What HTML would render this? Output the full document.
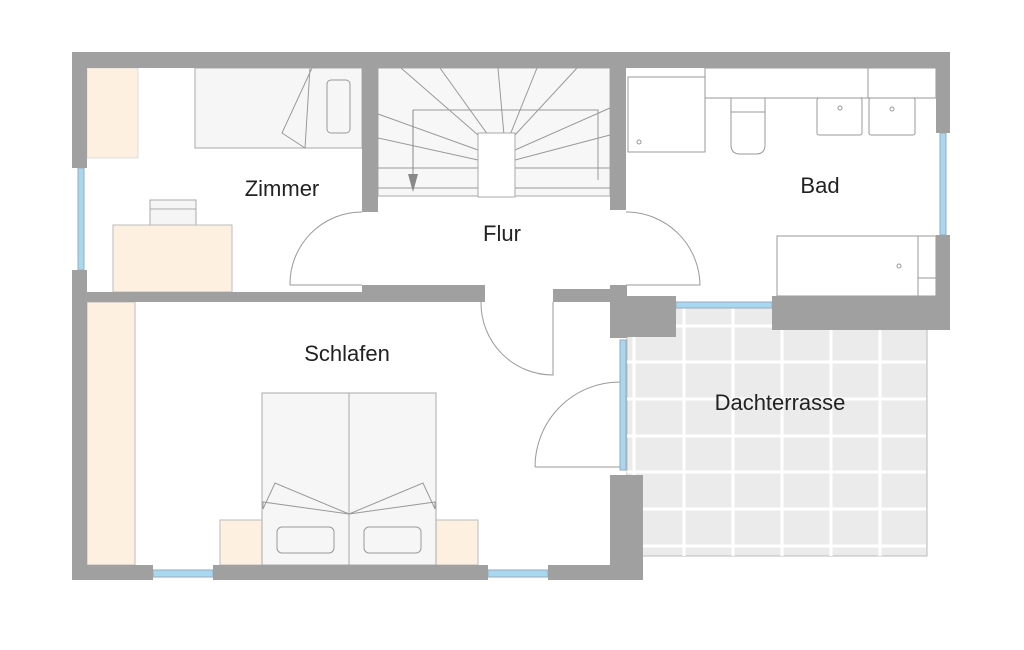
<!DOCTYPE html>
<html><head><meta charset="utf-8"><style>html,body{margin:0;padding:0;background:#fff}svg{display:block}text{font-family:"Liberation Sans",sans-serif;font-size:22px;fill:#222;text-anchor:middle}</style></head><body>
<svg width="1024" height="650" viewBox="0 0 1024 650" xmlns="http://www.w3.org/2000/svg">
<!-- terrace -->
<rect x="627" y="307" width="300" height="249" fill="#ebebeb" stroke="#bbb" stroke-width="1"/>
<g stroke="#fff" stroke-width="3">
<line x1="634" y1="307" x2="634" y2="556"/><line x1="684" y1="307" x2="684" y2="556"/><line x1="733" y1="307" x2="733" y2="556"/><line x1="782" y1="307" x2="782" y2="556"/><line x1="831" y1="307" x2="831" y2="556"/><line x1="880" y1="307" x2="880" y2="556"/>
<line x1="627" y1="326" x2="926" y2="326"/><line x1="627" y1="362" x2="926" y2="362"/><line x1="627" y1="399" x2="926" y2="399"/><line x1="627" y1="436" x2="926" y2="436"/><line x1="627" y1="472" x2="926" y2="472"/><line x1="627" y1="509" x2="926" y2="509"/><line x1="627" y1="546" x2="926" y2="546"/>
</g>
<!-- stairs -->
<rect x="378" y="68" width="232" height="128" fill="#f7f7f7" stroke="#aaa"/>
<g stroke="#999" stroke-width="1" fill="none">
<path d="M378 114 L478 150 M378 138 L478 160 M378 168 L478 168 M378 188 L478 188 M401 68 L478 135 M440 68 L488 135 M498 68 L504 135 M537 68 L510 135 M577 68 L515 135 M610 108 L515 150 M610 135 L515 160 M610 168 L515 168 M610 188 L515 188 M413 110 L598 110 L598 180"/>
</g>
<rect x="478" y="133" width="37" height="64" fill="#fff" stroke="#aaa"/>
<line x1="413" y1="110" x2="413" y2="175" stroke="#888"/><polygon points="408,174 418,174 413,192" fill="#888"/>
<!-- Zimmer furniture -->
<rect x="87" y="68" width="51" height="90" fill="#fdf0e0" stroke="#ddd"/>
<rect x="195" y="68" width="167" height="80" fill="#f7f6f7" stroke="#aaa"/>
<path d="M312 68 L282 133 L305 148 L310 68" fill="#f7f6f7" stroke="#999"/>
<rect x="327" y="80" width="23" height="53" rx="4" fill="#f7f6f7" stroke="#999"/>
<rect x="150" y="200" width="46" height="25" fill="#f5f5f5" stroke="#aaa"/><line x1="150" y1="209" x2="196" y2="209" stroke="#aaa"/>
<rect x="113" y="225" width="119" height="67" fill="#fdf0e0" stroke="#bbb"/>
<!-- Schlafen furniture -->
<rect x="87" y="302" width="48" height="263" fill="#fdf0e0" stroke="#bbb"/>
<rect x="220" y="520" width="42" height="45" fill="#fdf0e0" stroke="#bbb"/>
<rect x="436" y="520" width="42" height="45" fill="#fdf0e0" stroke="#bbb"/>
<rect x="262" y="393" width="174" height="172" fill="#f7f6f7" stroke="#aaa"/>
<line x1="349" y1="393" x2="349" y2="565" stroke="#aaa"/>
<path d="M262 538 L262 538 M263 509 L275 483 L349 514 L263 502 Z M435 509 L423 483 L349 514 L435 502 Z" fill="#f7f6f7" stroke="#999"/>
<rect x="277" y="527" width="57" height="26" rx="5" fill="none" stroke="#999"/>
<rect x="364" y="527" width="57" height="26" rx="5" fill="none" stroke="#999"/>
<!-- Bad furniture -->
<g fill="#fff" stroke="#999">
<rect x="628" y="77" width="77" height="75"/><circle cx="639" cy="142" r="2"/>
<rect x="705" y="68" width="231" height="30"/><line x1="868" y1="68" x2="868" y2="98"/>
<path d="M731 98 L765 98 L765 145 Q765 154 756 154 L740 154 Q731 154 731 145 Z"/><line x1="731" y1="112" x2="765" y2="112"/>
<rect x="817" y="98" width="45" height="37" rx="2"/><circle cx="840" cy="108" r="2"/>
<rect x="869" y="98" width="46" height="37" rx="2"/><circle cx="892" cy="109" r="2"/>
<rect x="777" y="236" width="141" height="60"/><circle cx="899" cy="266" r="2"/>
<rect x="918" y="236" width="18" height="60"/><line x1="918" y1="278" x2="936" y2="278"/>
</g>
<!-- doors -->
<g fill="none" stroke="#999" stroke-width="1">
<path d="M290 285 A72 72 0 0 1 362 212 M290 285 L362 285"/>
<path d="M626 212 A74 74 0 0 1 700 285 L626 285"/>
<path d="M481 302 A72 72 0 0 0 553 375 L553 302"/>
<path d="M535 467 A85 85 0 0 1 620 382 M535 467 L620 467"/>
</g>
<!-- windows -->
<g fill="#a8d8f0" stroke="#9ab">
<rect x="78" y="168" width="6" height="102"/>
<rect x="153" y="570" width="60" height="7"/>
<rect x="488" y="570" width="60" height="7"/>
<rect x="676" y="302" width="96" height="6"/>
<rect x="940" y="133" width="6" height="102"/>
<rect x="620" y="340" width="6" height="130"/>
</g>
<!-- walls -->
<g fill="#a0a0a0">
<rect x="72" y="52" width="878" height="16"/>
<rect x="72" y="52" width="15" height="116"/>
<rect x="72" y="270" width="15" height="310"/>
<rect x="72" y="565" width="81" height="15"/>
<rect x="213" y="565" width="275" height="15"/>
<rect x="548" y="565" width="95" height="15"/>
<rect x="610" y="475" width="33" height="105"/>
<rect x="362" y="52" width="16" height="160"/>
<rect x="610" y="52" width="16" height="158"/>
<rect x="87" y="292" width="275" height="10"/>
<rect x="362" y="285" width="123" height="17"/>
<rect x="553" y="289" width="59" height="13"/>
<rect x="610" y="285" width="17" height="53"/>
<rect x="610" y="296" width="66" height="41"/>
<rect x="772" y="296" width="178" height="34"/>
<rect x="936" y="52" width="14" height="81"/>
<rect x="936" y="235" width="14" height="95"/>
</g>
<text x="282" y="196">Zimmer</text>
<text x="502" y="241">Flur</text>
<text x="820" y="193">Bad</text>
<text x="347" y="361">Schlafen</text>
<text x="780" y="410">Dachterrasse</text>
</svg>
</body></html>
